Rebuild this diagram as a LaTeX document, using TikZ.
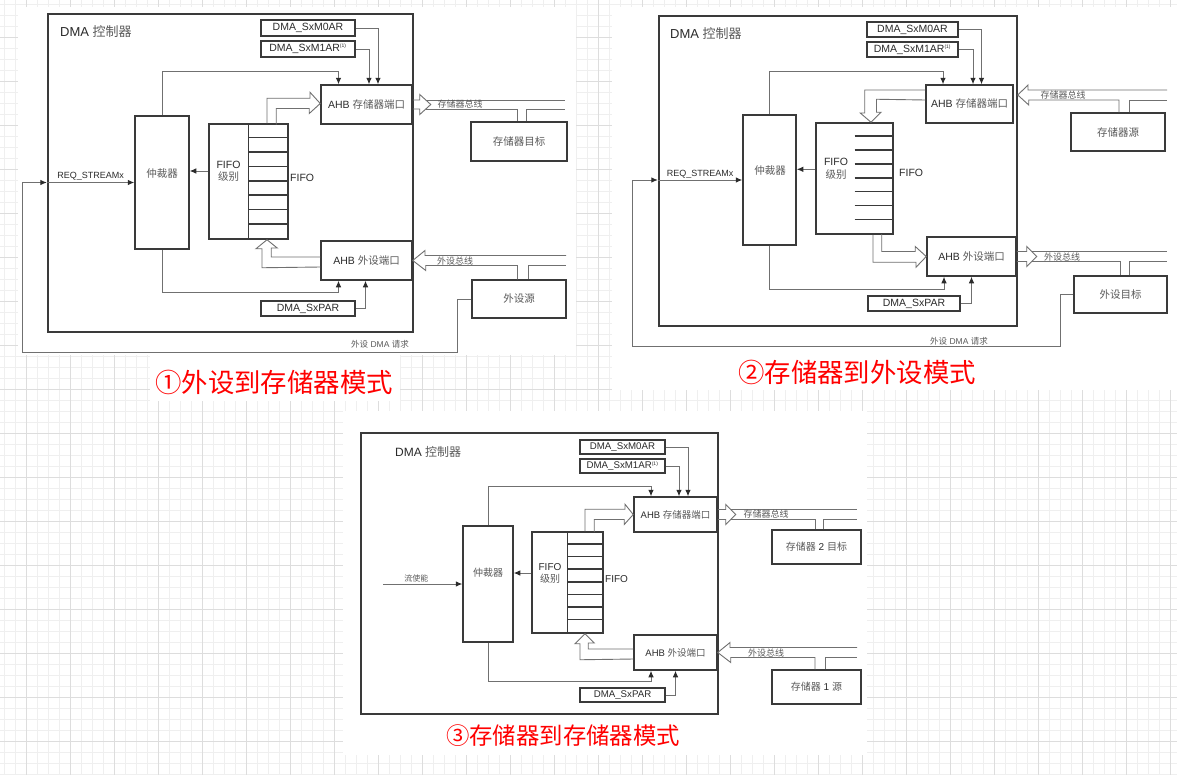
\documentclass[tikz,border=0pt]{standalone}
\usepackage{fontspec}
\setmainfont{Liberation Sans}
\newfontfamily\cjk{Noto Sans CJK SC}
\usetikzlibrary{arrows.meta}

\definecolor{boxc}{HTML}{3A3A3A}
\definecolor{linec}{HTML}{707070}
\definecolor{txtc}{HTML}{2B2B2B}
\definecolor{zhc}{HTML}{5A5A5A}
\definecolor{gridminor}{HTML}{EFEFEF}
\definecolor{gridmajor}{HTML}{DDDDDD}
\newcommand{\fsz}[1]{\fontsize{#1}{#1}\selectfont}
\newcommand{\zh}[1]{{\cjk\color{zhc}#1}}

\begin{document}
\begin{tikzpicture}[x=1pt, y=-1pt, >={Latex[length=6.5pt,width=5.5pt,color=txtc]},
    box/.style={draw=boxc, line width=1.5pt, fill=white, inner sep=0pt, text=txtc, font=\fsz{10.5}},
    ctlbox/.style={draw=boxc, line width=2.4pt, inner sep=0pt},
    wire/.style={draw=linec, line width=0.9pt},
    lbl/.style={inner sep=0pt, text=txtc, font=\fsz{10.5}},
    buslbl/.style={inner sep=0pt, text=zhc, font=\fsz{9}},
    title/.style={inner sep=0pt, text=red, font=\cjk\fsz{26.4}}]

    \useasboundingbox (0,0) rectangle (1177,774);
    \fill[white] (0,0) rectangle (1177,774);
    \begin{scope}[xshift=4.7pt, yshift=-4.3pt]
        \draw[gridminor, line width=0.8pt, step=11pt] (-11pt,-785pt) grid (1188pt,11pt);
    \end{scope}
    \begin{scope}[xshift=26.7pt, yshift=-37pt]
        \draw[gridmajor, line width=0.8pt, step=44pt] (-44pt,-818pt) grid (1188pt,44pt);
    \end{scope}
    \fill[white] (18,7) rectangle (576,355);
    \fill[white] (150,355) rectangle (400,401);
    \fill[white] (612,7) rectangle (1177,390);
    \fill[white] (343,411) rectangle (867,755);

    % panel 1
    \node[ctlbox, minimum width=365, minimum height=318] (ctl1) at (230.5,173) {};
    \node[lbl, anchor=west, font=\fsz{13}] (ctlt1) at (60,32) {DMA \zh{控制器}};
    \node[box, minimum width=94, minimum height=16] (m0a1) at (308,28) {DMA\_SxM0AR};
    \node[box, minimum width=94, minimum height=16] (m1a1) at (308,49) {DMA\_SxM1AR\textsuperscript{\fsz{5}(1)}};
    \node[box, minimum width=91, minimum height=39] (mport1) at (366.5,104.5) {AHB \zh{存储器端口}};
    \node[box, minimum width=91, minimum height=39] (pport1) at (366.5,260.5) {AHB \zh{外设端口}};
    \node[box, minimum width=54, minimum height=133] (arb1) at (162,182.5) {};
    \node[lbl] (arbt1) at (162,174) {\zh{仲裁器}};
    \node[box, minimum width=79, minimum height=115] (fifo1) at (248.5,181.5) {};
    \draw[boxc, line width=1.5pt] (fifo1.north) -- (fifo1.south);
    \foreach \i in {1,...,7}
        \draw[boxc, line width=1.5pt] ([yshift=-14.375*\i]fifo1.north) -- ([yshift=-14.375*\i]fifo1.north east);
    \node[lbl, align=center, font=\fontsize{10.5}{12.5}\selectfont] (fifol1) at (228.5,171.5) {FIFO\\\zh{级别}};
    \node[lbl, anchor=west] (fifot1) at (290,178) {FIFO};
    \node[box, minimum width=96, minimum height=39] (mtgt1) at (519,141.5) {\zh{存储器目标}};
    \node[box, minimum width=94, minimum height=38] (psrc1) at (519,299) {\zh{外设源}};
    \node[box, minimum width=94, minimum height=15] (par1) at (308,308.5) {DMA\_SxPAR};

    \draw[wire, ->] (m0a1.east) -| ([xshift=11.5pt]mport1.north);
    \draw[wire, ->] (m1a1.east) -| ([xshift=2.5pt]mport1.north);
    \draw[wire, ->] (arb1.north) -- ++(0,-43.5) -| ([xshift=-28pt]mport1.north);
    \draw[wire, ->] ([yshift=10.5pt]fifo1.west) -- ([yshift=11.5pt]arb1.east);
    \draw[wire, ->] (arb1.south) -- ++(0,43) -| ([xshift=-28pt]pport1.south);
    \draw[wire, ->] (par1.east) -| ([xshift=-1pt]pport1.south);

    \coordinate (lp1) at (22,352);
    \draw[wire, ->] (psrc1.west) -- ++(-13.5,0) |- (lp1) |- (ctl1.west |- arb1.west);
    \draw[wire, ->] (ctl1.west |- arb1.west) -- node[buslbl, above=1.5pt, text=txtc] {REQ\_STREAMx} (arb1.west);
    \node[buslbl, font=\fsz{8.5}] (reqt1) at (380,344) {\zh{外设} DMA \zh{请求}};

    \draw[wire] ([xshift=18.5pt]fifo1.north) -- ++(0,-25) -- ++(43,0) -- ++(0,-6) -- ([yshift=1pt]mport1.west)
        -- ++(-11,10) -- ++(0,-5) -- ++(-33,0) -- ++(0,16);
    \draw[wire] ([yshift=3.5pt]pport1.west) -- ++(-49,0) -- ++(0,-9) -- ++(6,0) -- ([xshift=18.5pt]fifo1.south)
        -- ++(-11,9) -- ++(6,0) -- ++(0,19) -- ([yshift=-6.5pt]pport1.west);

    \draw[wire] ([yshift=4.5pt]mport1.east) -- ++(7,0) -- ++(0,-5.5) -- ++(11,10) -- ++(-11,10) -- ++(0,-5.5) -- ++(-7,0);
    \coordinate (mbus1) at (565,100);
    \draw[wire] ([xshift=13pt,yshift=4.5pt]mport1.east) -- (mbus1);
    \draw[wire] ([xshift=13pt,yshift=-4.5pt]mport1.east) -| ([xshift=-2pt]mtgt1.north);
    \draw[wire] ([xshift=7pt]mtgt1.north) |- ([yshift=-9pt]mbus1);
    \node[buslbl] (mbust1) at (460,104.5) {\zh{存储器总线}};

    \coordinate (pbus1) at (566,255.5);
    \draw[wire] (pbus1) -- ++(-141,0) -- ++(0,-5) -- (pport1.east) -- ++(13,10) -- ++(0,-5) -| ([xshift=-1.5pt]psrc1.north);
    \draw[wire] ([xshift=9pt]psrc1.north) |- ([yshift=-10pt]pbus1);
    \node[buslbl] (pbust1) at (455,261) {\zh{外设总线}};

    \node[title] (tit1) at (274,382) {①外设到存储器模式};

    % panel 2
    \node[ctlbox, minimum width=358, minimum height=310] (ctl2) at (838,171) {};
    \node[lbl, anchor=west, font=\fsz{13}] (ctlt2) at (670,34) {DMA \zh{控制器}};
    \node[box, minimum width=91, minimum height=15] (m0a2) at (912.5,29.5) {DMA\_SxM0AR};
    \node[box, minimum width=91, minimum height=15] (m1a2) at (912.5,49.5) {DMA\_SxM1AR\textsuperscript{\fsz{5}(1)}};
    \node[box, minimum width=87, minimum height=38] (mport2) at (969.5,104) {AHB \zh{存储器端口}};
    \node[box, minimum width=89, minimum height=39] (pport2) at (971.5,256.5) {AHB \zh{外设端口}};
    \node[box, minimum width=53, minimum height=130] (arb2) at (769.5,180) {};
    \node[lbl] (arbt2) at (770,171) {\zh{仲裁器}};
    \node[box, minimum width=77, minimum height=111] (fifo2) at (854.5,178.5) {};
    \foreach \i in {1,...,7}
        \draw[boxc, line width=1.5pt] ([yshift=-13.875*\i]fifo2.north) -- ([yshift=-13.875*\i]fifo2.north east);
    \node[lbl, align=center, font=\fontsize{10.5}{12.5}\selectfont] (fifol2) at (836,169) {FIFO\\\zh{级别}};
    \node[lbl, anchor=west] (fifot2) at (899,172.7) {FIFO};
    \node[box, minimum width=94, minimum height=38] (msrc2) at (1118,132) {\zh{存储器源}};
    \node[box, minimum width=93, minimum height=37] (ptgt2) at (1120.5,294.5) {\zh{外设目标}};
    \node[box, minimum width=92, minimum height=15] (par2) at (914,303.5) {DMA\_SxPAR};

    \draw[wire, ->] (m0a2.east) -| ([xshift=12pt]mport2.north);
    \draw[wire, ->] (m1a2.east) -| ([xshift=3.5pt]mport2.north);
    \draw[wire, ->] (arb2.north) -- ++(0,-42.7) -| ([xshift=-26.5pt]mport2.north);
    \draw[wire, ->] ([yshift=9.2pt]fifo2.west) -- ([yshift=10.7pt]arb2.east);
    \draw[wire, ->] (arb2.south) -- ++(0,43.3) -| ([xshift=-27.5pt]pport2.south);
    \draw[wire, ->] (par2.east) -| (pport2.south);

    \coordinate (lp2) at (632,346);
    \draw[wire, ->] (ptgt2.west) -- ++(-13,0) |- (lp2) |- (ctl2.west |- arb2.west);
    \draw[wire, ->] (ctl2.west |- arb2.west) -- node[buslbl, above=1.5pt, text=txtc] {REQ\_STREAMx} (arb2.west);
    \node[buslbl, font=\fsz{8.5}] (reqt2) at (959,341) {\zh{外设} DMA \zh{请求}};

    \draw[wire] ([yshift=14pt]mport2.west) -- ++(-60.5,0) -- ++(0,23) -- ++(-4.5,0) -- ([xshift=16.5pt]fifo2.north)
        -- ++(10,-10) -- ++(-4.5,0) -- ++(0,-13) -- ([yshift=4pt]mport2.west);
    \draw[wire] ([xshift=18.5pt]fifo2.south) -- ++(0,27.5) -- ++(43,0) -- ++(0,5) -- (pport2.west)
        -- ++(-11,-10) -- ++(0,5) -- ++(-33.5,0) -- ++(0,-17.5);

    \coordinate (mbus2) at (1167,90);
    \draw[wire] (mbus2) -- ++(-139,0) -- ++(0,-5) -- ([xshift=4pt,yshift=9pt]mport2.east) -- ++(11,10) -- ++(0,-5) -| ([xshift=1pt]msrc2.north);
    \draw[wire] ([xshift=11pt]msrc2.north) |- ([yshift=-10pt]mbus2);
    \node[buslbl] (mbust2) at (1063,95) {\zh{存储器总线}};

    \draw[wire] ([yshift=5pt]pport2.east) -- ++(10,0) -- ++(0,-5) -- ++(10,10) -- ++(-10,10) -- ++(0,-5) -- ++(-10,0);
    \coordinate (pbus2) at (1167,251.5);
    \draw[wire] ([xshift=15pt,yshift=5pt]pport2.east) -- (pbus2);
    \draw[wire] ([xshift=15pt,yshift=-5pt]pport2.east) -| ([xshift=-0.5pt]ptgt2.north);
    \draw[wire] ([xshift=8.5pt]ptgt2.north) |- ([yshift=-10pt]pbus2);
    \node[buslbl] (pbust2) at (1062,257) {\zh{外设总线}};

    \node[title] (tit2) at (857,372) {②存储器到外设模式};

    % panel 3
    \node[ctlbox, minimum width=357, minimum height=281] (ctl3) at (539.5,573.5) {};
    \node[lbl, anchor=west, font=\fsz{12}] (ctlt3) at (395,452) {DMA \zh{控制器}};
    \node[box, font=\fsz{9.7}, minimum width=85, minimum height=14] (m0a3) at (622.5,447) {DMA\_SxM0AR};
    \node[box, font=\fsz{9.7}, minimum width=85, minimum height=14] (m1a3) at (622.5,466) {DMA\_SxM1AR\textsuperscript{\fsz{5}(1)}};
    \node[box, font=\fsz{9.5}, minimum width=83, minimum height=35] (mport3) at (675.5,514.5) {AHB \zh{存储器端口}};
    \node[box, font=\fsz{9.5}, minimum width=83, minimum height=35] (pport3) at (675.5,652.5) {AHB \zh{外设端口}};
    \node[box, minimum width=50, minimum height=116] (arb3) at (488,584) {};
    \node[lbl, font=\fsz{10}] (arbt3) at (488,573) {\zh{仲裁器}};
    \node[box, minimum width=71, minimum height=101] (fifo3) at (567.5,582.5) {};
    \draw[boxc, line width=1.5pt] (fifo3.north) -- (fifo3.south);
    \foreach \i in {1,...,7}
        \draw[boxc, line width=1.5pt] ([yshift=-12.625*\i]fifo3.north) -- ([yshift=-12.625*\i]fifo3.north east);
    \node[lbl, align=center, font=\fontsize{10}{12}\selectfont] (fifol3) at (550,573) {FIFO\\\zh{级别}};
    \node[lbl, anchor=west, font=\fsz{10}] (fifot3) at (605,579) {FIFO};
    \node[box, font=\fsz{10}, minimum width=89, minimum height=34] (mtgt3) at (816.5,547) {\zh{存储器} 2 \zh{目标}};
    \node[box, font=\fsz{10}, minimum width=89, minimum height=34] (msrc3) at (816.5,687) {\zh{存储器} 1 \zh{源}};
    \node[box, font=\fsz{9.7}, minimum width=85, minimum height=14] (par3) at (622.5,695) {DMA\_SxPAR};

    \draw[wire, ->] (m0a3.east) -| ([xshift=12.5pt]mport3.north);
    \draw[wire, ->] (m1a3.east) -| ([xshift=3.5pt]mport3.north);
    \draw[wire, ->] (arb3.north) -- ++(0,-39.3) -| ([xshift=-24.5pt]mport3.north);
    \draw[wire, ->] ([yshift=9.5pt]fifo3.west) -- ([yshift=11pt]arb3.east);
    \draw[wire, ->] (arb3.south) -- ++(0,38.7) -| ([xshift=-24.5pt]pport3.south);
    \draw[wire, ->] (par3.east) -| (pport3.south);

    \coordinate (en3) at (383,584);
    \draw[wire, ->] (en3) -- node[buslbl, pos=0.42, above=1.5pt, font=\fsz{8}] {\zh{流使能}} (arb3.west);

    \draw[wire] ([xshift=17.5pt]fifo3.north) -- ++(0,-22) -- ++(40,0) -- ++(0,-5) -- (mport3.west)
        -- ++(-9,10) -- ++(0,-5) -- ++(-30,0) -- ++(0,12.5);
    \draw[wire] ([yshift=3.5pt]pport3.west) -- ++(-45,0) -- ++(0,-6) -- ++(6,0) -- ([xshift=17.5pt]fifo3.south)
        -- ++(-10,10) -- ++(5,0) -- ++(0,16) -- ([yshift=-6.5pt]pport3.west);

    \draw[wire] ([yshift=5pt]mport3.east) -- ++(8,0) -- ++(0,-5) -- ++(10,10) -- ++(-10,10) -- ++(0,-5) -- ++(-8,0);
    \coordinate (mbus3) at (857,509.5);
    \draw[wire] ([xshift=13pt,yshift=5pt]mport3.east) -- (mbus3);
    \draw[wire] ([xshift=13pt,yshift=-5pt]mport3.east) -| ([xshift=-1.5pt]mtgt3.north);
    \draw[wire] ([xshift=6.5pt]mtgt3.north) |- ([yshift=-10pt]mbus3);
    \node[buslbl] (mbust3) at (766,514) {\zh{存储器总线}};

    \coordinate (pbus3) at (857,647.5);
    \draw[wire] (pbus3) -- ++(-127,0) -- ++(0,-5) -- (pport3.east) -- ++(13,10) -- ++(0,-5) -| ([xshift=-1.5pt]msrc3.north);
    \draw[wire] ([xshift=8.5pt]msrc3.north) |- ([yshift=-10pt]pbus3);
    \node[buslbl] (pbust3) at (766,653) {\zh{外设总线}};

    \node[title, font=\cjk\fsz{23.4}] (tit3) at (563,736) {③存储器到存储器模式};
\end{tikzpicture}
\end{document}
